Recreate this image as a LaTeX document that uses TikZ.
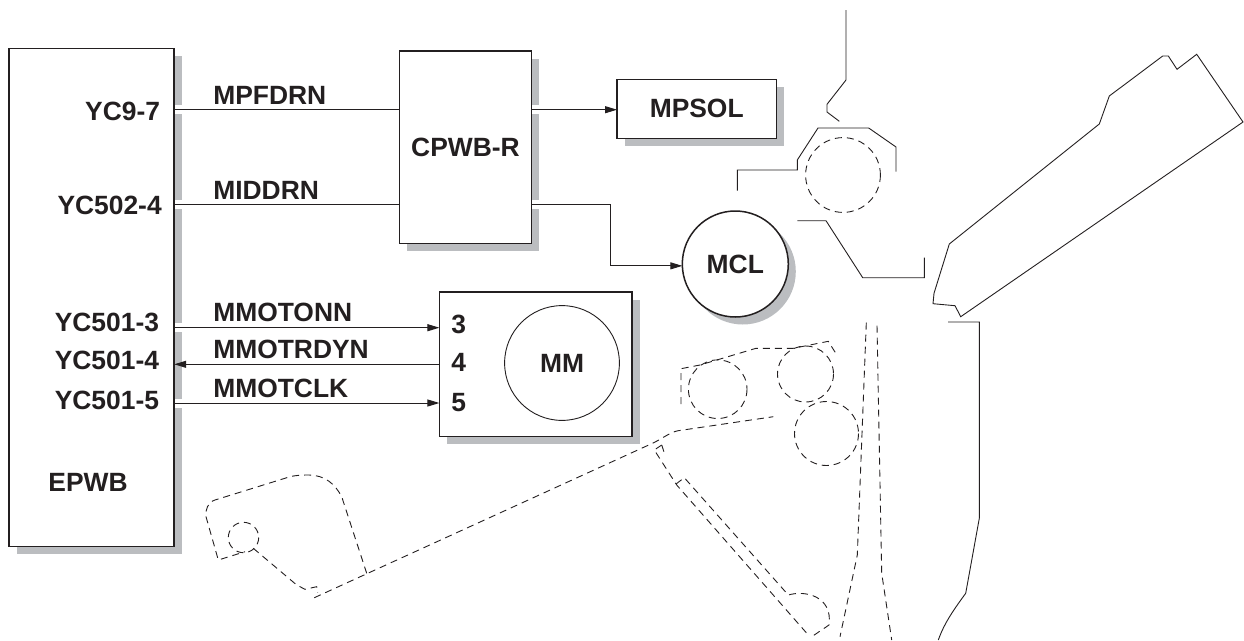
\documentclass[tikz,border=0pt]{standalone}
\usepackage{fontspec}
\setmainfont{Liberation Sans}
\usetikzlibrary{arrows.meta, shadows}
\definecolor{inkblack}{HTML}{231F20}
\definecolor{shadowgray}{HTML}{BBBDC0}
\tikzstyle{label} = [
    inner sep=0pt,
    outer sep=0pt,
    text=inkblack,
    font=\fontsize{26.4}{26.4}\selectfont\bfseries
]
\tikzstyle{board} = [
    rectangle,
    draw=inkblack,
    line width=1.5pt,
    fill=white,
    inner sep=0pt,
    outer sep=0pt,
    text=inkblack,
    font=\fontsize{26.4}{26.4}\selectfont\bfseries,
    drop shadow={shadow xshift=7.5pt,shadow yshift=-7.5pt,opacity=1,fill=shadowgray}
]
\tikzstyle{motor} = [
    board,
    circle,
    minimum size=106pt
]
\tikzstyle{wire} = [draw=inkblack,line width=1pt]
\tikzstyle{haloed} = [wire,preaction={draw=white,line width=9pt,-,shorten <=1pt,shorten >=1pt}]
\tikzstyle{arrow} = [-{Triangle[length=12pt,width=7pt]}]
\tikzstyle{part} = [draw=inkblack,line width=0.9pt]
\tikzstyle{hidden} = [part,dash pattern=on 7pt off 5pt]
\begin{document}
\begin{tikzpicture}[x=1pt,y=-1pt]
\useasboundingbox (0,0) rectangle (1244,640);

\node (epwb) [board, minimum width=165pt, minimum height=498pt] at (91.7,297.7) {};

\node (cpwb) [board, minimum width=131.6pt, minimum height=192.3pt] at (465.5,147.2) {CPWB-R};

\node (mpsol) [board, minimum width=159.3pt, minimum height=59pt] at (696.7,108.8) {MPSOL};

\node (mcl) [motor] at (735.3,264) {MCL};

\node (mm) [board, minimum width=192.8pt, minimum height=144.3pt] at (535.8,364.2) {};

\node (mmrotor) [circle, draw=inkblack, line width=0.9pt, inner sep=0pt, minimum size=114.8pt, label, text=inkblack] at (562,363) {MM};

\node (pin3) [label] at (458.8,324.3) {3};
\node (pin4) [label] at (458.8,362.7) {4};
\node (pin5) [label] at (458.8,403) {5};

\node (yc97) [label, anchor=east] at (160,111.7) {YC9-7};
\node (yc5024) [label, anchor=east] at (161.7,205) {YC502-4};
\node (yc5013) [label, anchor=east] at (159,322.3) {YC501-3};
\node (yc5014) [label, anchor=east] at (159,360.7) {YC501-4};
\node (yc5015) [label, anchor=east] at (159,400) {YC501-5};
\node (epwbname) [label, anchor=west] at (48.4,482.7) {EPWB};

\node (mpfdrn) [label, anchor=west] at (213.3,95) {MPFDRN};
\node (middrn) [label, anchor=west] at (213.3,190.7) {MIDDRN};
\node (mmotonn) [label, anchor=west] at (213.3,312.7) {MMOTONN};
\node (mmotrdyn) [label, anchor=west] at (213.3,349.3) {MMOTRDYN};
\node (mmotclk) [label, anchor=west] at (213.3,388.3) {MMOTCLK};

\coordinate (linea) at (0,109.7);
\coordinate (lineb) at (0,204.3);
\coordinate (linec) at (0,327.7);
\coordinate (lined) at (0,364.3);
\coordinate (linee) at (0,403);

\draw [haloed] (epwb.east |- linea) -- (cpwb.west |- linea);
\draw [haloed] (epwb.east |- lineb) -- (cpwb.west |- lineb);
\draw [haloed, arrow] (cpwb.east |- linea) -- (mpsol.west |- linea);
\draw [haloed, arrow] (cpwb.east |- lineb) -- ++(78.7,0) |- (mcl.182);
\draw [haloed, arrow] (epwb.east |- linec) -- (mm.west |- linec);
\draw [wire, arrow] (mm.west |- lined) -- (epwb.east |- lined);
\draw [haloed, arrow] (epwb.east |- linee) -- (mm.west |- linee);

\draw [part] (846,10) -- (846,80) -- (827,104.3) -- (827,112) -- (839.3,121.3);
\draw [part] (737.3,190.7) -- (737.3,170) -- (797.3,170) -- (797.3,160) -- (818,128) -- (868.7,128) -- (896,147) -- (896,171.7);
\draw [part] (797.3,220.7) -- (826,220.7) -- (862.7,277.7) -- (924.3,277.7) -- (924.3,257.7);
\draw [part] (949.3,244) -- (1099.3,124) -- (1109.3,96) -- (1162.7,56) -- (1168.3,56) -- (1177,69.3) -- (1196.7,54.3) -- (1243,122) -- (960.7,316.7) -- (955,305.7) -- (933,303.7) -- (934,293.3) -- cycle;
\draw [part] (948,322) -- (979.3,322) -- (979.3,518.3) -- (965.7,593.3) .. controls (952,612) and (944,624) .. (938.3,640);

\draw [hidden] (843,175) circle (37.4);
\draw [hidden] (717.7,389.2) circle (29.3);
\draw [hidden] (805.5,374) circle (28);
\draw [hidden] (826.5,433.5) circle (32);
\draw [hidden] (243.5,537.5) circle (15.2);

\draw [hidden] (866.3,322.7) -- (857.3,555) -- (840,636.7);
\draw [hidden] (877,325.7) -- (881.7,573.3) -- (891.7,640);
\draw [hidden] (681,404) -- (681,368.7) -- (700,365) -- (756,348.3) -- (793.3,348.3) -- (828.3,341.3) -- (837.3,355.7);
\draw [hidden] (314.3,597.7) -- (652,443.5) .. controls (662,439) and (670,432) .. (678.3,430.7) -- (773.3,416.7);
\draw [hidden] (661.7,445) -- (654.3,450) -- (676.7,485) -- (808.3,635);
\draw [hidden] (661.7,445) -- (665,455);
\draw [hidden] (676,484) -- (684.3,477.7) -- (788.3,595) .. controls (805,590) and (833,596) .. (829,625) -- (811.7,636.7);
\draw [hidden] (366.7,573.3) -- (341.7,496.7) .. controls (335,484) and (325,475) .. (308.3,475) .. controls (300,475) and (295,475.5) .. (290,476.7) -- (215,500) .. controls (208,502) and (205,510) .. (206,516.7) -- (218.3,560) -- (245,551.7);
\draw [hidden] (253.3,548.3) -- (296.7,585) -- (305,589.3) -- (316.7,586.7) -- (317.7,592.7);

\end{tikzpicture}
\end{document}
